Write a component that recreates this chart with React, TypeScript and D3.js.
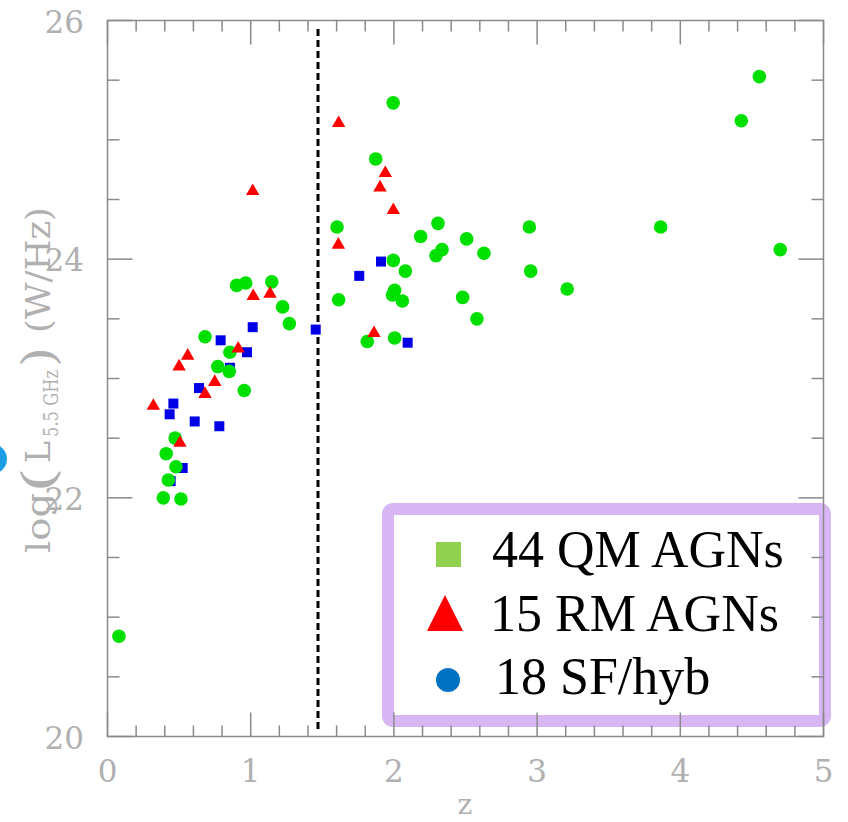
import React from "react";
import * as d3 from "d3";

// QM AGNs (green circles)
const qmZ = [0.08, 0.39, 0.513, 0.425, 0.478, 0.41, 0.473, 0.681, 0.855, 0.77, 0.85, 0.955, 0.902, 0.965, 1.147, 1.223, 1.27, 1.995, 1.873, 1.603, 2.308, 2.187, 2.508, 2.336, 2.294, 2.629, 2.946, 1.996, 2.08, 2.955, 3.21, 1.614, 2.005, 1.99, 2.059, 2.48, 2.58, 1.814, 2.005, 4.552, 4.426, 3.863, 4.698];
const qmL = [20.84, 22.0, 21.99, 22.15, 22.26, 22.37, 22.5, 23.35, 23.22, 23.1, 23.06, 22.9, 23.78, 23.8, 23.81, 23.6, 23.46, 25.31, 24.84, 24.27, 24.3, 24.19, 24.17, 24.08, 24.03, 24.05, 24.27, 23.99, 23.9, 23.9, 23.75, 23.66, 23.74, 23.7, 23.65, 23.68, 23.5, 23.31, 23.34, 25.53, 25.16, 24.27, 24.08];

// RM AGNs (red triangles)
const rmZ = [0.32, 0.56, 0.5, 0.749, 0.681, 0.913, 0.506, 1.018, 1.135, 1.014, 1.614, 1.94, 1.903, 1.996, 1.612, 1.861];
const rmL = [22.77, 23.19, 23.1, 22.97, 22.87, 23.25, 22.46, 23.69, 23.71, 24.57, 25.14, 24.72, 24.6, 24.41, 24.12, 23.38];

// SF/hyb (blue squares)
const sfZ = [0.79, 1.014, 0.974, 0.639, 0.46, 0.434, 0.609, 0.781, 0.525, 0.441, 0.855, 0.471, 1.91, 1.758, 1.454, 2.096];
const sfL = [23.32, 23.43, 23.22, 22.92, 22.79, 22.7, 22.64, 22.6, 22.25, 22.14, 23.09, 22.5, 23.98, 23.86, 23.41, 23.3];

const xTickLabels = [0, 1, 2, 3, 4, 5];
const yTickLabels = [20, 22, 24, 26];
const zCut = 1.47;

const legendItems = ["44 QM AGNs", "15 RM AGNs", "18 SF/hyb"];

export default function App() {
  const W = 848, H = 822;
  const x = d3.scaleLinear().domain([0, 5]).range([107.5, 823.5]);
  const y = d3.scaleLinear().domain([20, 26]).range([736.5, 20.5]);
  const axisCol = "#8a8a8a";
  const labelCol = "#b0b0b0";

  const xMinor = d3.range(0, 5.0001, 0.2).map((v) => +v.toFixed(2));
  const yMinor = d3.range(20, 26.0001, 0.5);

  const tri = d3.symbol().type(d3.symbolTriangle).size(78)() as string;
  const sq = d3.symbol().type(d3.symbolSquare).size(100)() as string;

  const [x0, x1] = x.range();
  const [y0, y1] = y.range();

  const ticks: JSX.Element[] = [];
  xMinor.forEach((v, i) => {
    const major = Math.abs(v - Math.round(v)) < 1e-6;
    const len = major ? 24 : 11;
    ticks.push(<line key={"xb" + i} x1={x(v)} x2={x(v)} y1={y0} y2={y0 - len} />);
    ticks.push(<line key={"xt" + i} x1={x(v)} x2={x(v)} y1={y1} y2={y1 + len} />);
  });
  yMinor.forEach((v, i) => {
    const major = Math.abs(v % 2) < 1e-6;
    const len = major ? 25 : 12;
    ticks.push(<line key={"yl" + i} x1={x0} x2={x0 + len} y1={y(v)} y2={y(v)} />);
    ticks.push(<line key={"yr" + i} x1={x1} x2={x1 - len} y1={y(v)} y2={y(v)} />);
  });

  return (
    <svg width={W} height={H} style={{ position: "absolute", left: 0, top: 0, background: "#fff" }}>
      <rect x={0} y={0} width={W} height={H} fill="#fff" />
      {/* decorative cropped circle on the left edge */}
      <circle cx={-8} cy={459} r={15} fill="#1a9fe6" />

      {/* legend border */}
      <rect x={388} y={509} width={437} height={212} rx={5} fill="none" stroke="#d8b6f3" strokeWidth={12} />

      {/* dashed cut line */}
      <line x1={x(zCut)} x2={x(zCut)} y1={29} y2={731} stroke="#000" strokeWidth={3} strokeDasharray="7,4" />

      {/* points */}
      <g>
        {sfZ.map((z, i) => (
          <path key={"s" + i} d={sq} transform={`translate(${x(z)},${y(sfL[i])})`} fill="#0000e6" />
        ))}
      </g>
      <g>
        {qmZ.map((z, i) => (
          <circle key={"q" + i} cx={x(z)} cy={y(qmL[i])} r={6.8} fill="#00e000" />
        ))}
      </g>
      <g>
        {rmZ.map((z, i) => (
          <path key={"r" + i} d={tri} transform={`translate(${x(z)},${y(rmL[i])})`} fill="#ff0000" />
        ))}
      </g>

      {/* axes frame and ticks */}
      <g stroke={axisCol} strokeWidth={1.5} fill="none">
        <rect x={x0} y={y1} width={x1 - x0} height={y0 - y1} />
        {ticks}
      </g>

      {/* tick labels */}
      <g fill={labelCol} fontFamily="'DejaVu Serif', serif" fontSize={31}>
        {xTickLabels.map((v) => (
          <text key={"xl" + v} x={x(v)} y={782} textAnchor="middle">{v}</text>
        ))}
        {yTickLabels.map((v) => (
          <text key={"yl" + v} x={84} y={y(v) + 12} textAnchor="end">{v}</text>
        ))}
        <text x={465} y={814} textAnchor="middle" fontSize={28}>z</text>
      </g>

      {/* y-axis title */}
      <g transform="translate(50,553) rotate(-90)" fill={labelCol} fontFamily="'DejaVu Serif', serif">
        <text x={0} y={0} fontSize={34} textLength={60} lengthAdjust="spacingAndGlyphs">log</text>
        <text x={60} y={4} fontSize={44} textLength={26} lengthAdjust="spacingAndGlyphs">(</text>
        <text x={90} y={0} fontSize={34} textLength={22} lengthAdjust="spacingAndGlyphs">L</text>
        <text x={116} y={8} fontSize={20} textLength={67} lengthAdjust="spacingAndGlyphs">5.5 GHz</text>
        <text x={186} y={4} fontSize={44} textLength={20} lengthAdjust="spacingAndGlyphs">)</text>
        <text x={220} y={0} fontSize={34} textLength={126} lengthAdjust="spacingAndGlyphs">(W/Hz)</text>
      </g>

      {/* legend content */}
      <g fontFamily="'Liberation Serif', 'Times New Roman', serif" fontSize={52} fill="#000">
        <rect x={436} y={542} width={25} height={25} fill="#92d050" />
        <text x={492} y={567}>{legendItems[0]}</text>
        <path d="M427,631 L445,595 L463,631 Z" fill="#ff0000" />
        <text x={490} y={631}>{legendItems[1]}</text>
        <circle cx={448} cy={680} r={12} fill="#0070c0" />
        <text x={495} y={694}>{legendItems[2]}</text>
      </g>
    </svg>
  );
}
